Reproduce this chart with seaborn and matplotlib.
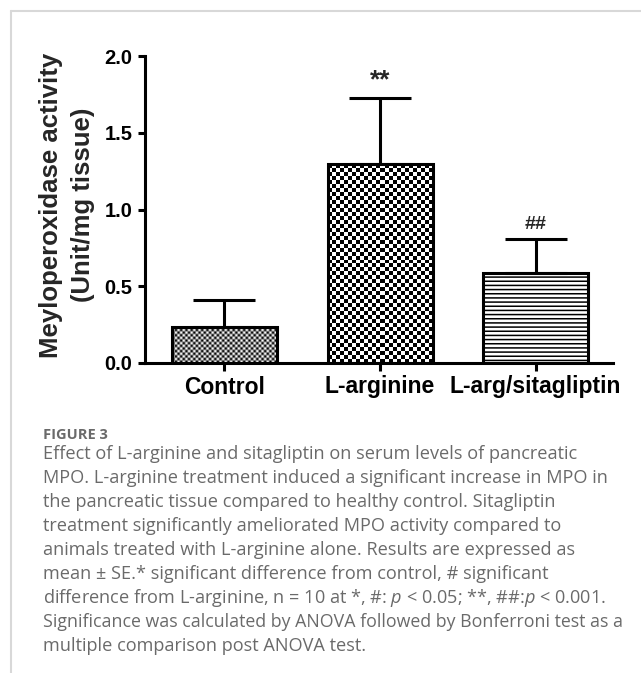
"""MPO activity bar chart (Figure 3 recreation)"""
import numpy as np
import matplotlib
matplotlib.use("Agg")
import matplotlib.pyplot as plt
import seaborn as sns
from matplotlib.lines import Line2D

# ─── data ───
groups = ["Control", "L-arginine", "L-arg/sitagliptin"]
means = [0.235, 1.295, 0.586]
sems = [0.175, 0.430, 0.222]
marks = ["", "**", "##"]
mark_sizes = [14, 19, 14]
y_ticks = [0.0, 0.5, 1.0, 1.5, 2.0]

caption_title = "FIGURE 3"
caption_lines = [
    "Effect of L-arginine and sitagliptin on serum levels of pancreatic",
    "MPO. L-arginine treatment induced a significant increase in MPO in",
    "the pancreatic tissue compared to healthy control. Sitagliptin",
    "treatment significantly ameliorated MPO activity compared to",
    "animals treated with L-arginine alone. Results are expressed as",
    "mean \u00b1 SE.* significant difference from control, # significant",
    "difference from L-arginine, n = 10 at *, #: $\\mathit{p}$ < 0.05; **, ##:$\\mathit{p}$ < 0.001.",
    "Significance was calculated by ANOVA followed by Bonferroni test as a",
    "multiple comparison post ANOVA test.",
]
# the justified line in the original is set a little tighter
caption_sizes = [13.1] * 7 + [12.8, 13.1]

sns.set_theme(style="ticks")
plt.rcParams["font.family"] = ["Liberation Sans", "DejaVu Sans"]
plt.rcParams["mathtext.fontset"] = "custom"
plt.rcParams["mathtext.it"] = "Open Sans:italic"
plt.rcParams["mathtext.rm"] = "Open Sans"
plt.rcParams["hatch.linewidth"] = 1.1

W, H = 641, 673
fig = plt.figure(figsize=(W / 100, H / 100), dpi=100)
fig.patch.set_facecolor("white")

# axes placed in pixel terms of the reference
ax_l, ax_r, ax_t, ax_b = 145, 613, 56, 363
ax = fig.add_axes([ax_l / W, 1 - ax_b / H, (ax_r - ax_l) / W, (ax_b - ax_t) / H])

sns.barplot(x=groups, y=means, fill=False, color="black", linewidth=2.2,
            width=0.675, errorbar=None, ax=ax)

ax.set_xlim(-0.511, 2.498)
ax.set_ylim(0, 2.0)

# fill patterns: fine check, coarse check, horizontal stripes
def checker(patch, cell_px):
    bb = patch.get_window_extent()
    nx = max(1, round(bb.width / cell_px))
    ny = max(1, round(bb.height / cell_px))
    img = np.add.outer(np.arange(ny), np.arange(nx)) % 2
    x0, y0 = patch.get_x(), patch.get_y()
    ax.imshow(img, cmap="gray", vmin=0, vmax=1, aspect="auto",
              extent=(x0, x0 + patch.get_width(), y0, y0 + patch.get_height()),
              interpolation="antialiased", zorder=0.9, clip_path=patch)

bars = list(ax.patches)
checker(bars[0], 2.6)
checker(bars[1], 4.0)
bars[2].set_hatch("----")

ax.set_xlim(-0.511, 2.498)
ax.set_ylim(0, 2.0)

centers = [p.get_x() + p.get_width() / 2 for p in bars]
ax.errorbar(centers, means, yerr=[np.zeros(len(sems)), sems], fmt="none",
            ecolor="black", elinewidth=2.2, capsize=22.5, capthick=2.2, zorder=0.8)

for c, m, s, mk, fs in zip(centers, means, sems, marks, mark_sizes):
    if mk:
        ax.annotate(mk, xy=(c, m + s), xytext=(0, 4), textcoords="offset points",
                    ha="center", va="bottom", fontsize=fs, fontweight="bold")

sns.despine(ax=ax)
for sp in ["left", "bottom"]:
    ax.spines[sp].set_linewidth(2.2)
    ax.spines[sp].set_color("black")

ax.set_yticks(y_ticks)
ax.set_yticklabels([f"{v:.1f}" for v in y_ticks], fontsize=14.5, fontweight="bold")
ax.set_xticks(centers)
ax.set_xticklabels(groups, fontsize=16.5, fontweight="bold")
ax.tick_params(axis="y", length=5, width=2.2, pad=4, colors="black")
ax.tick_params(axis="x", length=6, width=2.2, pad=3, colors="black")
ax.set_xlabel("")
ax.set_ylabel("Meyloperoxidase activity\n(Unit/mg tissue)", fontsize=18.5,
              fontweight="bold", linespacing=1.4)
ax.yaxis.set_label_coords((95 - ax_l) / (ax_r - ax_l), 0.515)
ax.set_facecolor("white")

# card border
fig.add_artist(Line2D([11 / W, 1], [1 - 11 / H, 1 - 11 / H], color="#d8d8d8", lw=1.5))
fig.add_artist(Line2D([11 / W, 11 / W], [0, 1 - 11 / H], color="#d8d8d8", lw=1.5))

# caption
cap_x = 43 / W
fig.text(cap_x, 1 - 435 / H, caption_title, fontsize=10.5, fontweight="bold",
         color="#6a6a6a", family="Open Sans", va="center")
for i, (line, fs) in enumerate(zip(caption_lines, caption_sizes)):
    fig.text(cap_x, 1 - (454 + 24 * i) / H, line, fontsize=fs, color="#6a6a6a",
             family="Open Sans", va="center")

plt.savefig("out.png", dpi=100, facecolor="white")
print("saved")
